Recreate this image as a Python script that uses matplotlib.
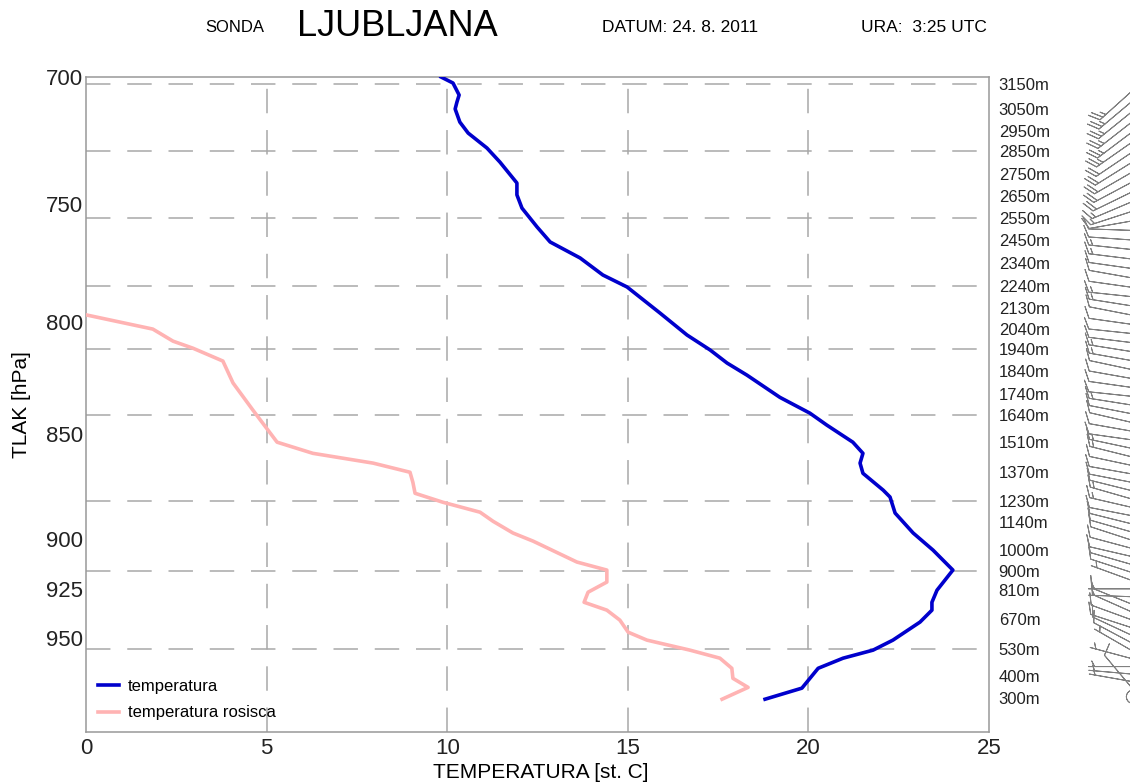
import numpy as np
import matplotlib
matplotlib.use("Agg")
import matplotlib.pyplot as plt
from matplotlib.ticker import NullLocator, NullFormatter

plt.rcParams['font.family'] = ['Liberation Sans', 'DejaVu Sans']

# --- temperature profile (deg C vs hPa) ---
temp_c = [9.83, 10.16, 10.33, 10.27, 10.22, 10.35, 10.58, 11.10, 11.46, 11.93,
          11.93, 12.07, 12.49, 12.85, 13.68, 14.31, 14.98, 15.89, 16.64, 17.28,
          17.75, 18.30, 19.21, 20.04, 20.51, 21.23, 21.51, 21.43, 21.51, 22.07,
          22.26, 22.40, 22.90, 23.45, 24.00, 23.56, 23.42, 23.42, 23.09, 22.34,
          21.79, 20.96, 20.27, 19.82, 18.80]
temp_p = [700.0, 702.3, 706.9, 709.6, 712.3, 717.4, 721.7, 727.6, 733.2, 741.6,
          746.4, 751.8, 759.6, 765.8, 772.5, 779.7, 784.8, 796.0, 805.6, 812.2,
          818.0, 823.4, 833.4, 840.6, 846.1, 854.0, 859.2, 863.8, 868.6, 876.6,
          879.9, 887.6, 897.3, 905.7, 915.6, 925.7, 931.8, 935.8, 941.9, 951.2,
          956.4, 960.6, 965.9, 976.4, 982.3]

# --- dew point profile ---
dew_c = [-0.3, 0.03, 1.85, 2.41, 2.96, 3.79, 4.07, 4.62, 5.29, 6.28, 7.95,
         8.97, 9.05, 9.11, 9.88, 10.91, 11.27, 11.82, 12.38, 13.59, 14.42,
         14.42, 13.90, 13.79, 14.42, 14.78, 15.01, 15.53, 16.72, 17.55, 17.88,
         17.91, 18.33, 17.61]
dew_p = [795.5, 796.9, 803.0, 808.3, 811.4, 817.1, 826.9, 839.2, 854.0, 859.2,
         863.8, 868.1, 872.9, 878.1, 882.4, 887.2, 891.6, 897.3, 901.3, 911.6,
         915.6, 921.6, 926.7, 931.8, 935.8, 940.9, 947.1, 951.2, 956.4, 960.6,
         965.9, 971.2, 976.0, 982.3]

# --- axes labels ---
p_ticks = [700, 750, 800, 850, 900, 925, 950]
x_ticks = [0, 5, 10, 15, 20, 25]

heights_m = [3150, 3050, 2950, 2850, 2750, 2650, 2550, 2450, 2340, 2240, 2130,
             2040, 1940, 1840, 1740, 1640, 1510, 1370, 1230, 1140, 1000, 900,
             810, 670, 530, 400, 300]
heights_p = [702.7, 712.3, 720.9, 728.8, 738.0, 746.9, 755.9, 765.0, 774.6,
             784.4, 793.8, 803.0, 811.7, 821.5, 831.9, 841.5, 854.0, 868.0,
             881.8, 891.9, 905.7, 916.1, 925.7, 940.4, 955.9, 970.0, 981.6]
grid_heights = [3150, 2850, 2550, 2240, 1940, 1640, 1230, 900, 530]

# --- wind profile (direction deg, speed kt) ---
wind_p = [705, 709, 713, 717, 721, 725, 729, 733, 737, 741, 745, 749, 753, 757,
          761, 765, 769, 773, 777, 781, 785, 789, 793, 797, 801, 805, 809, 813,
          817, 821, 825, 829, 833, 837, 841, 845, 849, 853, 857, 861, 865, 869,
          873, 877, 881, 885, 889, 893, 897, 901, 905, 909, 913, 917, 921, 925,
          929, 933, 937, 941, 945, 949, 953, 957, 961, 965, 969, 973, 977, 981]
wind_dir = [228, 230, 231, 232, 233, 235, 236, 238, 240, 242, 244, 247, 252, 260,
            272, 274, 276, 277, 278, 280, 278, 276, 279, 281, 278, 276, 277, 279,
            280, 282, 280, 278, 276, 279, 281, 283, 280, 278, 282, 284, 282, 280,
            281, 284, 286, 283, 281, 284, 286, 288, 285, 283, 286, 288, 290, 270,
            272, 292, 294, 290, 288, 295, 298, 300, 285, 270, 275, 280, 320, 0]
wind_spd = [25, 25, 25, 25, 25, 25, 20, 20, 20, 20, 20, 15, 15, 10,
            10, 10, 15, 15, 10, 10, 10, 15, 15, 10, 10, 10, 10, 15,
            15, 10, 10, 10, 10, 15, 10, 10, 10, 10, 15, 15, 10, 10,
            10, 10, 15, 15, 10, 10, 10, 10, 10, 10, 10, 10, 5, 5,
            5, 10, 10, 10, 10, 10, 10, 5, 5, 5, 5, 5, 10, 0]

W, H = 1130, 784
fig = plt.figure(figsize=(W / 100, H / 100), dpi=100)
ax = fig.add_axes([86 / W, 52 / H, 903 / W, 655 / H])

grid_col = '#a8a8a8'
dash = (0, (16, 11))

ax.set_yscale('log')
ax.set_ylim(1000, 700)
ax.set_xlim(0, 25)

for xv in x_ticks[1:-1]:
    ax.axvline(xv, color=grid_col, lw=1.1, linestyle=dash, zorder=1)
for h, p in zip(heights_m, heights_p):
    if h in grid_heights:
        ax.axhline(p, color=grid_col, lw=1.1, linestyle=dash, zorder=1)

ax.plot(temp_c, temp_p, color='#0000cc', lw=2.6, label='temperatura', zorder=3)
ax.plot(dew_c, dew_p, color='#ffb3b3', lw=2.6, label='temperatura rosisca', zorder=3)

ax.set_xticks(x_ticks, labels=[str(v) for v in x_ticks])
ax.set_yticks(p_ticks, labels=[str(v) for v in p_ticks])
ax.yaxis.set_minor_locator(NullLocator())
ax.yaxis.set_minor_formatter(NullFormatter())
ax.tick_params(axis='both', length=0, labelsize=16, colors='#222222')
ax.tick_params(axis='x', pad=4)
ax.tick_params(axis='y', pad=2)
for s in ax.spines.values():
    s.set_color('#999999')
    s.set_linewidth(1.1)

# right axis with heights
ax2 = ax.twinx()
ax2.set_yscale('log')
ax2.set_ylim(1000, 700)
ax2.set_yticks(heights_p, labels=[f"{h}m" for h in heights_m])
ax2.yaxis.set_minor_locator(NullLocator())
ax2.yaxis.set_minor_formatter(NullFormatter())
ax2.tick_params(axis='y', length=0, labelsize=12, pad=7, colors='#222222')
for s in ax2.spines.values():
    s.set_visible(False)

leg = ax.legend(loc='lower left', frameon=False, fontsize=12, handlelength=1.3,
                handletextpad=0.5, labelspacing=0.7, borderaxespad=0.3)

# wind barbs column (base just off the right edge)
axb = fig.add_axes([1033 / W, 52 / H, 200 / W, 655 / H], sharey=ax)
axb.set_xlim(0, 1)
axb.axis('off')
rad = np.deg2rad(wind_dir)
spd = np.array(wind_spd, dtype=float)
u = -spd * np.sin(rad)
v = -spd * np.cos(rad)
axb.barbs(np.full(len(wind_p), 0.5), wind_p, u, v, length=8, color='#808080',
          linewidth=0.7, sizes=dict(height=0.25, spacing=0.09, width=0.25, emptybarb=0.15))

# header
fig.text(235 / W, 1 - 28 / H, 'SONDA', ha='center', va='center', fontsize=12)
fig.text(397 / W, 1 - 27 / H, 'LJUBLJANA', ha='center', va='center', fontsize=26)
fig.text(680 / W, 1 - 28 / H, 'DATUM: 24. 8. 2011', ha='center', va='center', fontsize=12.5)
fig.text(924 / W, 1 - 28 / H, 'URA:  3:25 UTC', ha='center', va='center', fontsize=12.5)

fig.text(541 / W, 1 - 772 / H, 'TEMPERATURA [st. C]', ha='center', va='center', fontsize=15)
fig.text(22 / W, 1 - 405 / H, 'TLAK [hPa]', ha='center', va='center', rotation=90, fontsize=15)

fig.savefig('out.png', dpi=100)
